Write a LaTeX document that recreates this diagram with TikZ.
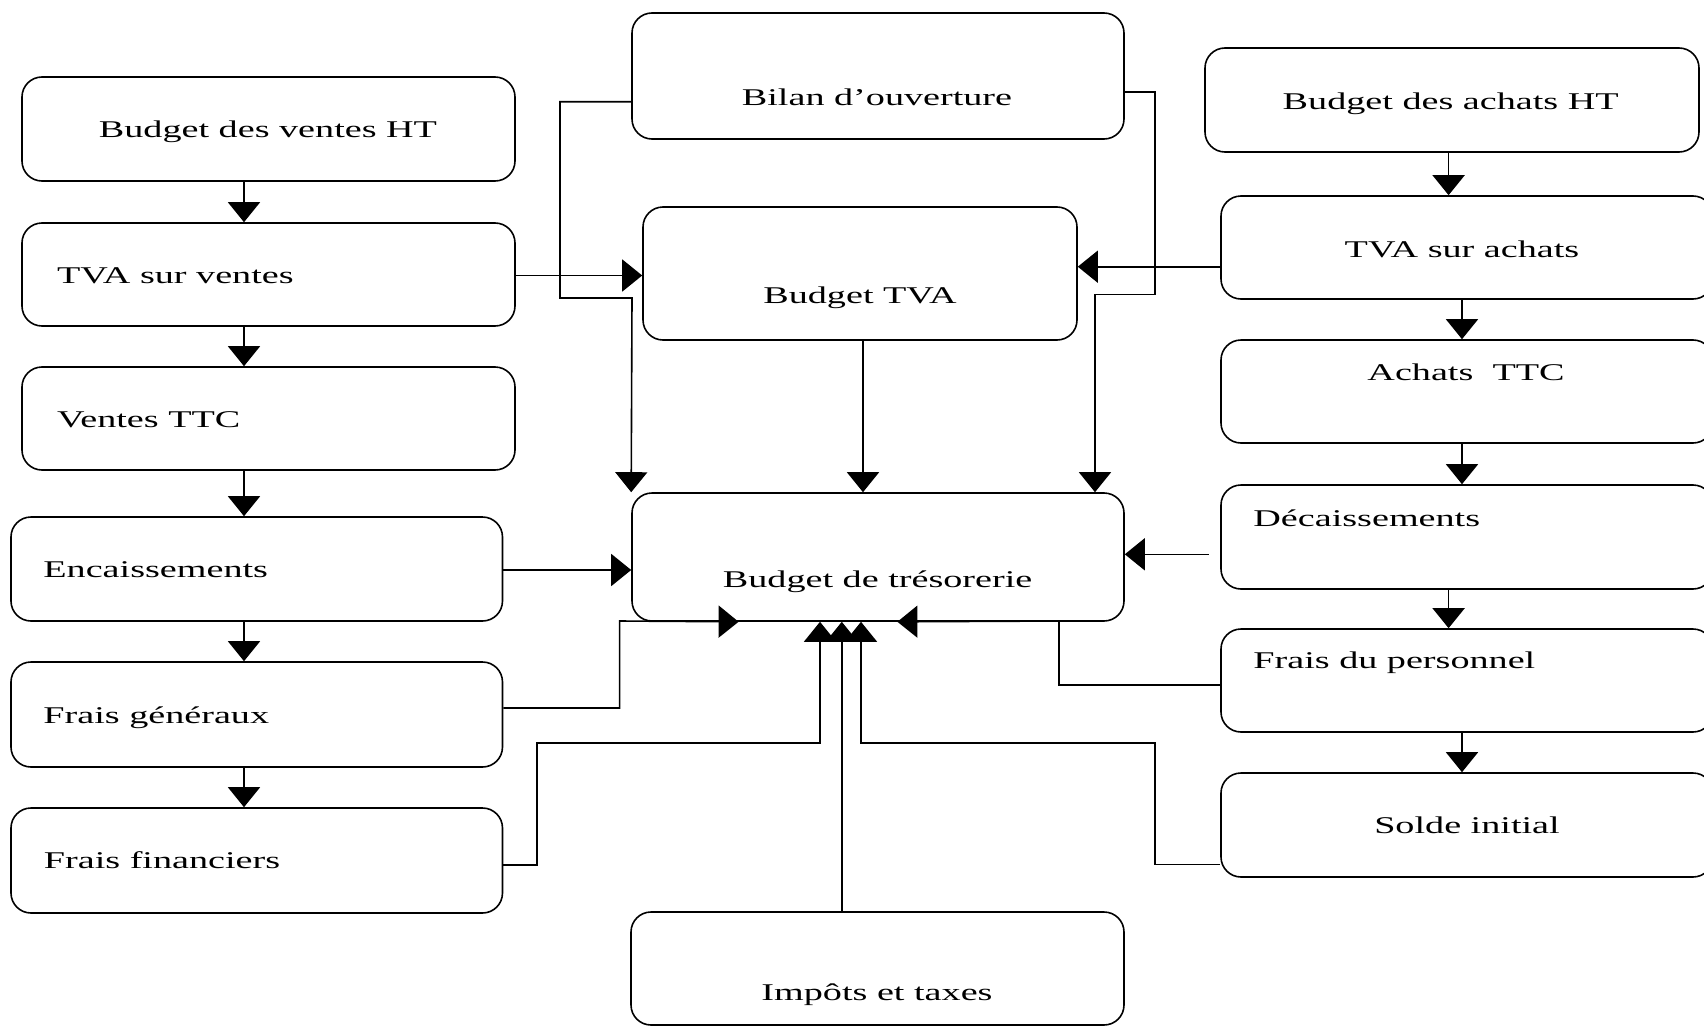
\documentclass[tikz,border=0pt]{standalone}
\usepackage{fontspec}
\setmainfont{Liberation Serif}[FakeStretch=1.59]
\usetikzlibrary{arrows.meta,fit}
\begin{document}
\begin{tikzpicture}[x=0.5pt,y=-0.5pt,
  box/.style={draw, line width=0.8pt, rounded corners=10pt, inner sep=0pt},
  txt/.style={font=\fontsize{12}{14}\selectfont, inner sep=0pt},
  arr/.style={line width=0.8pt, -{Triangle[length=10pt,width=16pt]}},
  ln/.style={line width=0.8pt}]
\useasboundingbox (0,0) rectangle (1704,1028);
\begin{scope}
\clip (0,0) rectangle (1704,1028);

% boxes
\node[box, fit={(22,77) (515,181)}] (bvht) {};
\node[box, fit={(22,223) (515,326)}] (tvav) {};
\node[box, fit={(22,367) (515,470)}] (vttc) {};
\node[box, fit={(11,517) (502.5,621)}] (enc) {};
\node[box, fit={(11,662) (502.5,767)}] (fg) {};
\node[box, fit={(11,808) (502.5,913)}] (ff) {};
\node[box, fit={(632,13) (1124,139)}] (bo) {};
\node[box, fit={(643,207) (1077,340)}] (btva) {};
\node[box, fit={(632,493) (1124,621)}] (tres) {};
\node[box, fit={(631,912) (1124,1025)}] (imp) {};
\node[box, fit={(1205,48) (1699,152)}] (baht) {};
\node[box, fit={(1221,196) (1713,299)}] (tvaa) {};
\node[box, fit={(1221,340) (1713,443)}] (attc) {};
\node[box, fit={(1221,485) (1713,589)}] (dec) {};
\node[box, fit={(1221,629) (1713,732)}] (fdp) {};
\node[box, fit={(1221,773) (1713,877)}] (si) {};

% texts
\node[txt, anchor=base] (t-bvht) at (268,137) {Budget des ventes HT};
\node[txt, anchor=base west] (t-tvav) at (56.6,283) {TVA sur ventes};
\node[txt, anchor=base west] (t-vttc) at (56.6,427) {Ventes TTC};
\node[txt, anchor=base west] (t-enc) at (43,577) {Encaissements};
\node[txt, anchor=base west] (t-fg) at (43,723) {Frais généraux};
\node[txt, anchor=base west] (t-ff) at (43.5,868) {Frais financiers};
\node[txt, anchor=base] (t-bo) at (877,105) {Bilan d’ouverture};
\node[txt, anchor=base] (t-btva) at (860,303) {Budget TVA};
\node[txt, anchor=base] (t-tres) at (877.6,587) {Budget de trésorerie};
\node[txt, anchor=base] (t-imp) at (877,1000) {Impôts et taxes};
\node[txt, anchor=base] (t-baht) at (1450.7,109) {Budget des achats HT};
\node[txt, anchor=base] (t-tvaa) at (1462,257) {TVA sur achats};
\node[txt, anchor=base] (t-attc) at (1466,380) {Achats\ \ TTC};
\node[txt, anchor=base west] (t-dec) at (1253,526) {Décaissements};
\node[txt, anchor=base west] (t-fdp) at (1253,668) {Frais du personnel};
\node[txt, anchor=base] (t-si) at (1467,833) {Solde initial};

% helper coordinates
\coordinate (xA) at (244,0);
\coordinate (xR1) at (1448.6,0);
\coordinate (xR2) at (1462,0);
\coordinate (yTV) at (0,275.5);
\coordinate (yTA) at (0,266.7);
\coordinate (xM) at (863,0);
\coordinate (yEnc) at (0,570);
\coordinate (yDec) at (0,554.3);
\coordinate (yBL) at (0,101.7);
\coordinate (yBR) at (0,91.7);
\coordinate (yFG) at (0,708);
\coordinate (yFF) at (0,865);
\coordinate (yFP) at (0,685);
\coordinate (ySI) at (0,864.3);
\coordinate (xTR) at (1095,0);
\coordinate (xFGt) at (738.6,0);
\coordinate (xFPt) at (897.4,0);
\coordinate (xU1) at (820,0);
\coordinate (xU2) at (841.8,0);
\coordinate (xU3) at (861,0);

% vertical chains
\draw[arr] (bvht.south -| xA) -- (tvav.north -| xA);
\draw[arr] (tvav.south -| xA) -- (vttc.north -| xA);
\draw[arr] (vttc.south -| xA) -- (enc.north -| xA);
\draw[arr] (enc.south -| xA) -- (fg.north -| xA);
\draw[arr] (fg.south -| xA) -- (ff.north -| xA);
\draw[arr] (baht.south -| xR1) -- (tvaa.north -| xR1);
\draw[arr] (tvaa.south -| xR2) -- (attc.north -| xR2);
\draw[arr] (attc.south -| xR2) -- (dec.north -| xR2);
\draw[arr] (dec.south -| xR1) -- (fdp.north -| xR1);
\draw[arr] (fdp.south -| xR2) -- (si.north -| xR2);

% into Budget TVA
\draw[arr] (tvav.east |- yTV) -- (btva.west |- yTV);
\draw[arr] (tvaa.west |- yTA) -- (btva.east |- yTA);

% into Budget de tresorerie
\draw[arr] (btva.south -| xM) -- (tres.north -| xM);
\draw[arr] (enc.east |- yEnc) -- (tres.west |- yEnc);
\draw[arr, shorten <=5.8pt] (dec.west |- yDec) -- (tres.east |- yDec);
\draw[arr] (bo.west |- yBL) -- (560,101.7) -- (560,298) -- (632,298) -- (tres.north west);
\draw[arr] (bo.east |- yBR) -- (1155,91.7) -- (1155,294.3) -- (1095,294.3) -- (tres.north -| xTR);
\draw[arr] (fg.east |- yFG) -- (619.6,708) -- (619.6,621) -- (tres.south -| xFGt);
\draw[arr] (fdp.west |- yFP) -- (1059,685) -- (1059,621) -- (tres.south -| xFPt);
\draw[arr] (ff.east |- yFF) -- (536.7,865) -- (536.7,742.7) -- (820,742.7) -- (tres.south -| xU1);
\draw[arr] (imp.north -| xU2) -- (tres.south -| xU2);
\draw[arr] (si.west |- ySI) -- (1155,864.3) -- (1155,742.7) -- (861,742.7) -- (tres.south -| xU3);
\end{scope}
\end{tikzpicture}
\end{document}
